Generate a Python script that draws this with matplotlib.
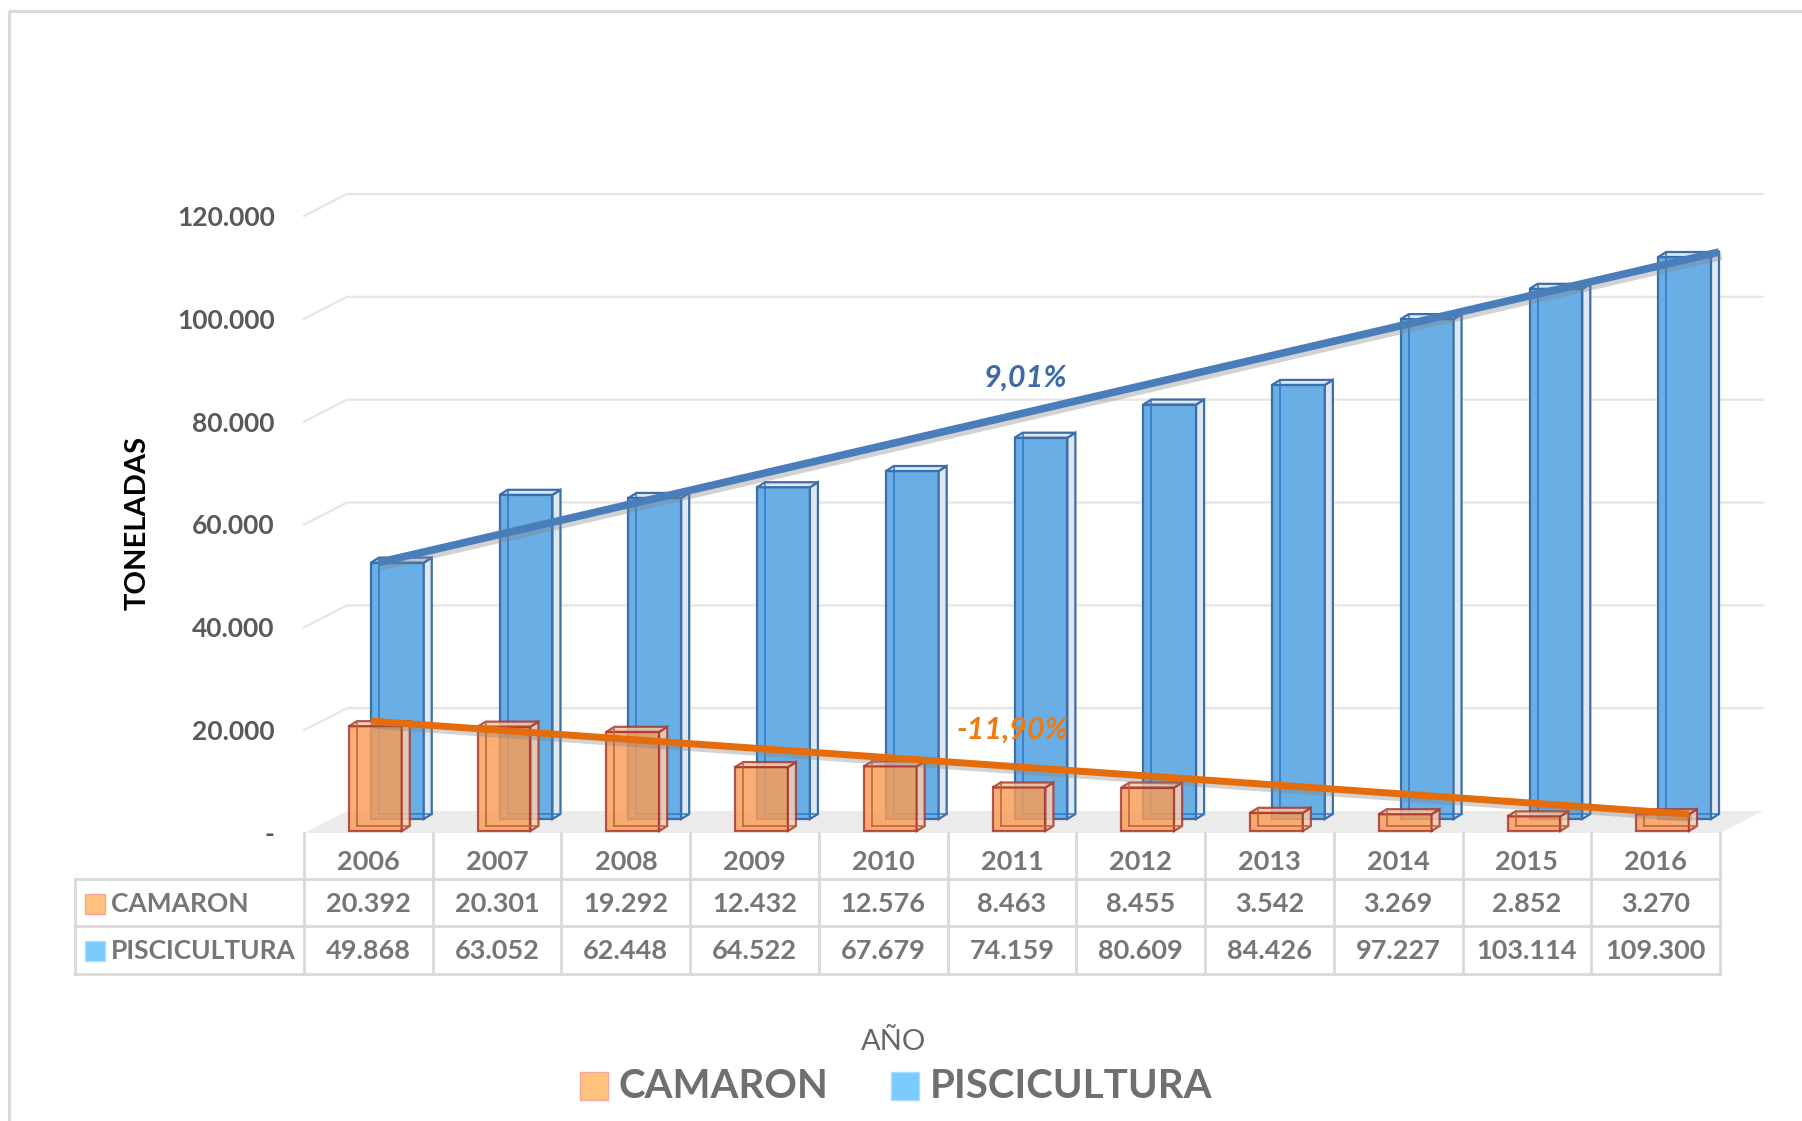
import numpy as np
import matplotlib.pyplot as plt
from matplotlib.patches import Polygon, Rectangle
from matplotlib.lines import Line2D
from matplotlib.transforms import IdentityTransform, blended_transform_factory
from matplotlib.ticker import FuncFormatter
import matplotlib.patheffects as pe

plt.rcParams['font.family'] = ['Lato', 'DejaVu Sans']

# data
years = ['2006', '2007', '2008', '2009', '2010', '2011', '2012', '2013', '2014', '2015', '2016']
camaron = [20392, 20301, 19292, 12432, 12576, 8463, 8455, 3542, 3269, 2852, 3270]
piscicultura = [49868, 63052, 62448, 64522, 67679, 74159, 80609, 84426, 97227, 103114, 109300]
series_names = ['CAMARON', 'PISCICULTURA']
growth_labels = ['-11,90%', '9,01%']
y_ticks = [0, 20000, 40000, 60000, 80000, 100000, 120000]

W, H = 1802, 1121
fig = plt.figure(figsize=(W / 100, H / 100), dpi=100)


def fx(px):
    return px / W


def fy(py):
    return 1 - py / H


ax = fig.add_axes([fx(304), fy(833), fx(1720) - fx(304), fy(216) - fy(833)])
ax.set_xlim(-0.5, len(years) - 0.5)
ax.set_ylim(0, 120000)
ax.set_facecolor('none')
for s in ax.spines.values():
    s.set_visible(False)
ax.set_xticks([])
ax.set_yticks(y_ticks)
ax.yaxis.set_major_formatter(FuncFormatter(
    lambda v, p: '-' if v == 0 else f'{v:,.0f}'.replace(',', '.')))
ax.tick_params(axis='y', length=0, pad=21, labelsize=19, labelcolor='#595959')
for t in ax.get_yticklabels():
    t.set_fontweight('bold')

ident = IdentityTransform()
wall = np.array([43, 22])      # depth of the floor / back wall, px
row_orange = np.array([7, 2])
row_blue = np.array([29, 14])
box_depth = np.array([8, 5])
bar_w = 0.41


def to_px(x, y):
    return ax.transData.transform((x, y))


# floor
f0, f1 = to_px(-0.5, 0), to_px(len(years) - 0.5, 0)
ax.add_patch(Polygon([f0, f1, f1 + wall, f0 + wall], closed=True, transform=ident,
                     facecolor='#ebebeb', edgecolor='none', clip_on=False, zorder=0))

# gridlines on the walls
for v in y_ticks[1:]:
    a = to_px(-0.5, v)
    b = to_px(len(years) - 0.5, v) + wall
    pts = np.array([a, a + wall, b])
    ax.add_line(Line2D(pts[:, 0], pts[:, 1], transform=ident, color='#e6e6e6',
                       lw=1.6, clip_on=False, zorder=0))


def draw_box(xc, h, off, face, side, topc, edge, inner, alpha):
    x0, x1 = xc - bar_w / 2, xc + bar_w / 2
    bl = to_px(x0, 0) + off
    br = to_px(x1, 0) + off
    tr = to_px(x1, h) + off
    tl = to_px(x0, h) + off
    d = box_depth
    kw = dict(transform=ident, clip_on=False, zorder=2, lw=1.6, edgecolor=edge)
    ax.add_patch(Polygon([bl, br, tr, tl], facecolor=face, alpha=alpha, **kw))
    ax.add_patch(Polygon([br, br + d, tr + d, tr], facecolor=side, alpha=alpha, **kw))
    ax.add_patch(Polygon([tl, tr, tr + d, tl + d], facecolor=topc, alpha=alpha, **kw))
    # back edges seen through the face
    for p, q in [(bl + d, tl + d), (bl + d, br + d)]:
        ax.add_line(Line2D([p[0], q[0]], [p[1], q[1]], transform=ident, color=inner,
                           lw=1.4, alpha=0.8, clip_on=False, zorder=2))


for i, v in enumerate(piscicultura):
    draw_box(i, v, row_blue, '#69afe5', '#dfe8f0', '#dfe8f0', '#3b6eaa', '#2f78c4', 1.0)
for i, v in enumerate(camaron):
    draw_box(i, v, row_orange, '#fb9c55', '#fbd0b0', '#fcc8a0', '#a8352d', '#b8653c', 0.82)

# trend lines
n = len(years) - 1
shadow = [pe.SimpleLineShadow(offset=(2, -3), shadow_color='#808080', alpha=0.35), pe.Normal()]
b_start = to_px(-0.15, piscicultura[0]) + row_blue
b_end = to_px(n + bar_w / 2, piscicultura[-1]) + row_blue + box_depth
ax.add_line(Line2D([b_start[0], b_end[0]], [b_start[1], b_end[1]], transform=ident,
                   color='#4a7ebb', lw=5.5, solid_capstyle='butt', clip_on=False,
                   zorder=4, path_effects=shadow))
o_start = to_px(-bar_w / 2 + 0.11, camaron[0]) + row_orange + box_depth
o_end = to_px(n + bar_w / 2, camaron[-1]) + row_orange
ax.add_line(Line2D([o_start[0], o_end[0]], [o_start[1], o_end[1]], transform=ident,
                   color='#e46c0a', lw=5.0, solid_capstyle='butt', clip_on=False,
                   zorder=4, path_effects=shadow))

fig.text(fx(1025), fy(378), growth_labels[1], ha='center', va='center', fontsize=22,
         fontweight='bold', fontstyle='italic', color='#3d6aa8')
fig.text(fx(1013), fy(730), growth_labels[0], ha='center', va='center', fontsize=22,
         fontweight='bold', fontstyle='italic', color='#ee7a12')

# y title
fig.text(fx(138), fy(523), 'TONELADAS', rotation=90, ha='center', va='center',
         fontsize=21, fontweight='bold', color='black')

# data table
grid_c = '#d9d9d9'
tbl_left, tbl_top, rows = 75, 833, [879, 926, 974]
right_px = to_px(len(years) - 0.5, 0)[0]
for i in range(len(years) + 1):
    xp = to_px(i - 0.5, 0)[0]
    ax.add_line(Line2D([xp, xp], [H - tbl_top, H - rows[-1]], transform=ident,
                       color=grid_c, lw=2, clip_on=False))
ax.add_line(Line2D([tbl_left, tbl_left], [H - rows[0], H - rows[-1]], transform=ident,
                   color=grid_c, lw=2, clip_on=False))
for r in rows:
    ax.add_line(Line2D([tbl_left, right_px], [H - r, H - r], transform=ident,
                       color=grid_c, lw=2, clip_on=False))

bt = blended_transform_factory(ax.transData, fig.transFigure)
txt_c = '#767676'
for i, yr in enumerate(years):
    ax.text(i, fy(862), yr, transform=bt, ha='center', va='center', fontsize=19.5,
            fontweight='bold', color=txt_c)
    for vals, yc in [(camaron, 904), (piscicultura, 951)]:
        ax.text(i, fy(yc), f'{vals[i]:,}'.replace(',', '.'), transform=bt, ha='center',
                va='center', fontsize=19.5, fontweight='bold', color=txt_c)

key_colors = [('#ffc27d', '#f3a79e'), ('#7ccbff', '#a9dcff')]
for name, (fc, ec), yc in zip(series_names, key_colors, [904, 951]):
    fig.patches.append(Rectangle((fx(85), fy(yc + 10)), fx(20), 20 / H, transform=fig.transFigure,
                                 facecolor=fc, edgecolor=ec, lw=1))
    fig.text(fx(111), fy(yc), name, ha='left', va='center', fontsize=19,
             fontweight='bold', color=txt_c)

# axis title and legend
fig.text(fx(894), fy(1042), 'AÑO', ha='center', va='center', fontsize=21, color='#666666')
leg_x = [(580, 619), (891, 930)]
for name, (fc, ec), (kx, tx) in zip(series_names, key_colors, leg_x):
    fig.patches.append(Rectangle((fx(kx), fy(1100)), fx(28), 28 / H, transform=fig.transFigure,
                                 facecolor=fc, edgecolor=ec, lw=1))
    fig.text(fx(tx), fy(1087), name, ha='left', va='center', fontsize=29,
             fontweight='bold', color='#6f6f6f')

# chart area border
fig.add_artist(Line2D([fx(9), fx(9), 1], [0, fy(11), fy(11)], transform=fig.transFigure,
                      color='#d9d9d9', lw=2.2))

fig.savefig('out.png', dpi=100)
